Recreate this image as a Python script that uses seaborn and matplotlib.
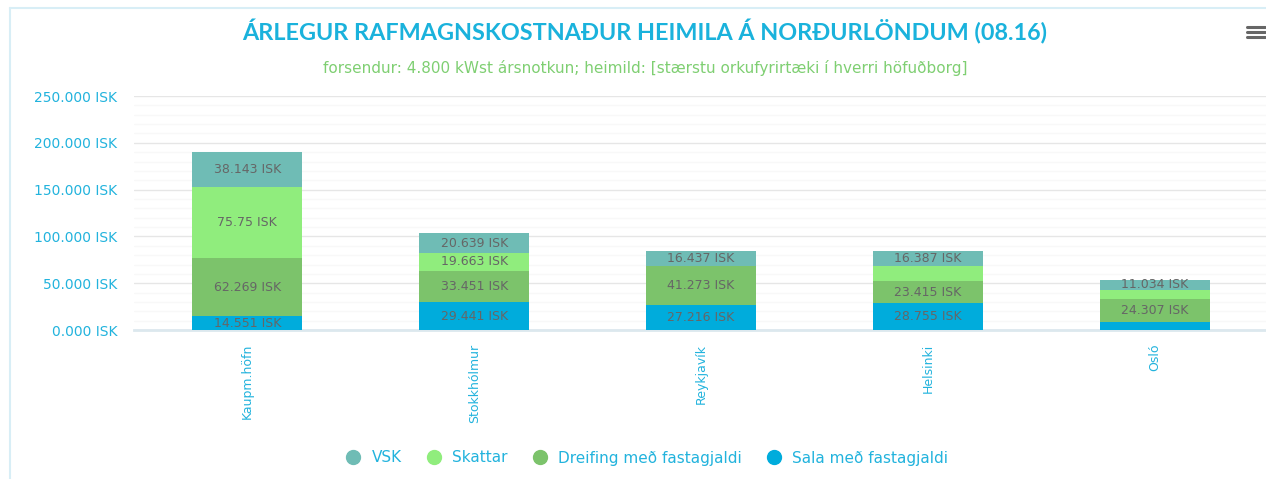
import matplotlib
matplotlib.use('Agg')
import matplotlib.pyplot as plt
import matplotlib.ticker as mticker
from matplotlib.lines import Line2D
import pandas as pd
import seaborn as sns

# Data (thousands of ISK, as the chart labels them)
cities = ['Kaupm.höfn', 'Stokkhólmur', 'Reykjavík', 'Helsinki', 'Osló']
sala = [14.551, 29.441, 27.216, 28.755, 8.6]
dreifing = [62.269, 33.451, 41.273, 23.415, 24.307]
skattar = [75.75, 19.663, 0.0, 15.8, 10.0]
vsk = [38.143, 20.639, 16.437, 16.387, 11.034]
# labels the chart actually prints (others hidden / estimated)
sala_shown = [True, True, True, True, False]
dreifing_shown = [True, True, True, True, True]
skattar_shown = [True, True, False, False, False]
vsk_shown = [True, True, True, True, True]

series = ['VSK', 'Skattar', 'Dreifing með fastagjaldi', 'Sala með fastagjaldi']
colors = {'VSK': '#6fbcb5', 'Skattar': '#90ed7d',
          'Dreifing með fastagjaldi': '#7cc36b', 'Sala með fastagjaldi': '#00acdc'}

title = 'ÁRLEGUR RAFMAGNSKOSTNAÐUR HEIMILA Á NORÐURLÖNDUM (08.16)'
subtitle = ('forsendur: 4.800 kWst ársnotkun; heimild: '
            '[stærstu orkufyrirtæki í hverri höfuðborg]')

cyan = '#22b3dd'

df = pd.DataFrame({'city': cities, 'Sala með fastagjaldi': sala,
                   'Dreifing með fastagjaldi': dreifing,
                   'Skattar': skattar, 'VSK': vsk})

sns.set_style('white')
plt.rcParams['font.family'] = ['DejaVu Sans']

fig = plt.figure(figsize=(12.66, 4.79), dpi=100)
ax = fig.add_axes([0.1058, 0.311, 0.8958, 0.4885])

# stacked bars: draw cumulative totals from the top segment down
stack_order = ['Sala með fastagjaldi', 'Dreifing með fastagjaldi', 'Skattar', 'VSK']
cum = df[stack_order].cumsum(axis=1)
for name in reversed(stack_order):
    sns.barplot(x=df['city'], y=cum[name], color=colors[name], width=0.485,
                saturation=1, linewidth=0, ax=ax, zorder=3)

# data labels
shown = {'Sala með fastagjaldi': sala_shown, 'Dreifing með fastagjaldi': dreifing_shown,
         'Skattar': skattar_shown, 'VSK': vsk_shown}
for i in range(len(cities)):
    base = 0
    for name in stack_order:
        v = df[name][i]
        if shown[name][i] and v > 0:
            ax.text(i, base + v / 2, f'{v:g} ISK', ha='center', va='center',
                    fontsize=9, color='#666666', zorder=5)
        base += v

ax.set_xlim(-0.5, 4.5)
ax.set_ylim(0, 250)
ax.yaxis.set_major_locator(mticker.MultipleLocator(50))
ax.yaxis.set_minor_locator(mticker.MultipleLocator(10))
ax.yaxis.set_major_formatter(mticker.FuncFormatter(lambda v, p: f'{v:.3f} ISK'))
ax.grid(axis='y', which='major', color='#e6e6e6', lw=1, zorder=0)
ax.grid(axis='y', which='minor', color='#f8f8f8', lw=1, zorder=0)
ax.set_axisbelow(True)
for s in ['top', 'right', 'left']:
    ax.spines[s].set_visible(False)
ax.spines['bottom'].set_color('#dce8ee')
ax.spines['bottom'].set_linewidth(2)
ax.set_xlabel('')
ax.set_ylabel('')
ax.tick_params(axis='y', which='both', length=0, pad=12, labelsize=10, labelcolor=cyan)
ax.tick_params(axis='x', length=0, pad=10, labelsize=9, labelcolor=cyan)
for lbl in ax.get_xticklabels():
    lbl.set_rotation(90)
    lbl.set_va('top')
    lbl.set_ha('center')

# title / subtitle
fig.text(0.5095, 1 - 32 / 479, title, ha='center', va='center', fontsize=16.8,
         fontweight='bold', family='Lato', color='#1ab2dc')
fig.text(0.5095, 1 - 68 / 479, subtitle, ha='center', va='center', fontsize=11,
         color='#7fcf72')

# legend
handles = [Line2D([], [], marker='o', ls='', markersize=10, color=colors[n]) for n in series]
fig.legend(handles, series, loc='center', bbox_to_anchor=(0.508, 1 - 458 / 479),
           ncol=4, frameon=False, fontsize=11, labelcolor=cyan, handletextpad=0.2,
           columnspacing=1.1)

# container frame and menu icon
fig.add_artist(Line2D([10 / 1266, 10 / 1266], [0, 1 - 8 / 479], color='#d8eef6', lw=1.5))
fig.add_artist(Line2D([10 / 1266, 1], [1 - 8 / 479, 1 - 8 / 479], color='#d8eef6', lw=1.5))
for yy in [27, 32, 37]:
    fig.add_artist(Line2D([1247 / 1266, 1265 / 1266], [1 - yy / 479, 1 - yy / 479],
                          color='#666666', lw=2.2, solid_capstyle='round'))

fig.savefig('out.png', dpi=100)
